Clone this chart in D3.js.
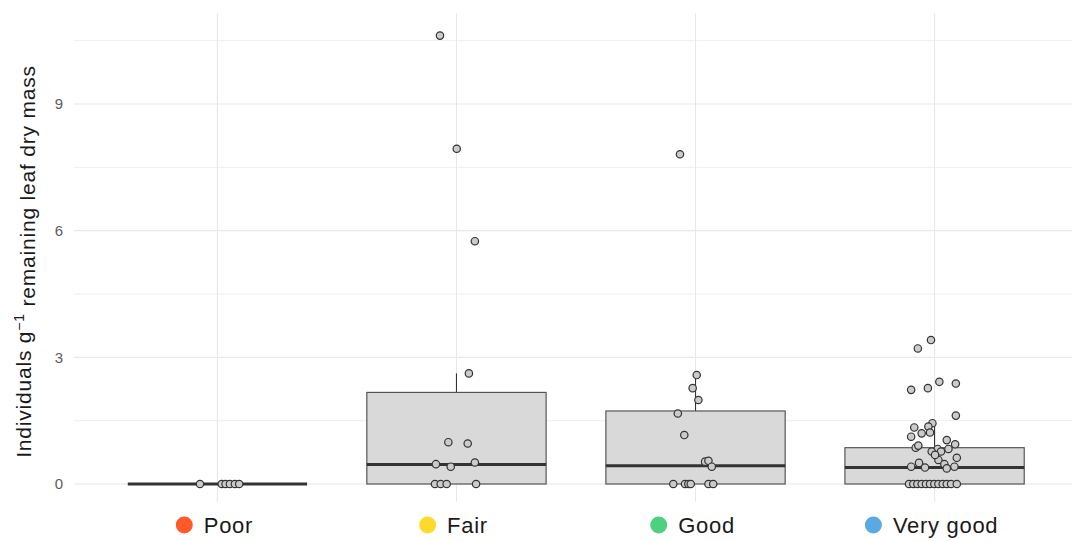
<!DOCTYPE html>
<html>
<head>
<meta charset="utf-8">
<script src="https://cdn.jsdelivr.net/npm/d3@7"></script>
<style>
  html, body { margin: 0; padding: 0; background: #fff; }
  #chart-container { width: 1072px; height: 541px; }
  text { font-family: "Liberation Sans", Arial, sans-serif; }
</style>
</head>
<body>
<div id="chart-container"></div>
<script>
// Box plot with jittered points
const categories = ["Poor", "Fair", "Good", "Very good"];
const categoryColors = ["#ff5a27", "#fdd92c", "#4dd080", "#59a9e3"];
const yTicks = [0, 3, 6, 9];
const yMinorTicks = [1.5, 4.5, 7.5, 10.5];

// box statistics
const boxLow = [0, 0, 0, 0];
const boxQ1 = [0, 0, 0, 0];
const boxMedian = [0, 0.46, 0.43, 0.39];
const boxQ3 = [0, 2.17, 1.73, 0.86];
const boxHigh = [0, 2.62, 2.57, 1.5];

// points: value and horizontal jitter (in category units)
const poorValues = [0, 0, 0, 0, 0, 0];
const poorJitter = [-0.073, 0.018, 0.034, 0.052, 0.073, 0.091];

const fairValues = [10.62, 7.94, 5.75, 2.62, 0.99, 0.96, 0.47, 0.41, 0.51, 0, 0, 0, 0];
const fairJitter = [-0.069, 0.001, 0.077, 0.052, -0.034, 0.047, -0.086, -0.024, 0.077, -0.09, -0.066, -0.041, 0.082];

const goodValues = [7.81, 2.58, 2.27, 1.99, 1.67, 1.16, 0.53, 0.55, 0.41, 0, 0, 0, 0, 0, 0];
const goodJitter = [-0.065, 0.005, -0.012, 0.012, -0.074, -0.047, 0.040, 0.054, 0.068, -0.093, -0.044, -0.030, -0.020, 0.054, 0.074];

const veryGoodValues = [3.21, 3.41, 2.23, 2.27, 2.42, 2.38, 1.62, 1.44, 1.34, 1.36, 1.20, 1.22, 1.12, 1.04, 0.94,
  0.86, 0.91, 0.83, 0.77, 0.77, 0.83, 0.57, 0.62, 0.47, 0.41, 0.50, 0.39, 0.37, 0.41, 0.69,
  0, 0, 0, 0, 0, 0, 0, 0, 0, 0, 0, 0];
const veryGoodJitter = [-0.070, -0.015, -0.098, -0.028, 0.020, 0.089, 0.089, -0.009, -0.085, -0.026, -0.054, -0.019, -0.098, 0.051, 0.086,
  -0.079, -0.068, 0.013, -0.012, 0.027, 0.058, 0.016, 0.093, 0.041, -0.098, -0.065, -0.040, 0.051, 0.083, 0.002,
  -0.107, -0.089, -0.072, -0.054, -0.036, -0.019, -0.001, 0.016, 0.034, 0.051, 0.069, 0.093];

(function() {
  const width = 1072;
  const height = 541;
  const panel = { left: 74, right: 1078, top: 13, bottom: 502 };

  const svg = d3.select('#chart-container')
    .append("svg")
    .attr("width", width)
    .attr("height", height);

  const xScale = d3.scaleLinear()
    .domain([-0.6, categories.length - 0.4])
    .range([panel.left, panel.right]);

  const yScale = d3.scaleLinear()
    .domain([-0.426, 11.155])
    .range([panel.bottom, panel.top]);

  // grid
  svg.selectAll(".minor-grid")
    .data(yMinorTicks)
    .enter()
    .append("line")
    .attr("x1", panel.left).attr("x2", width)
    .attr("y1", d => yScale(d)).attr("y2", d => yScale(d))
    .attr("stroke", "#efefef")
    .attr("stroke-width", 1);

  svg.selectAll(".major-grid")
    .data(yTicks)
    .enter()
    .append("line")
    .attr("x1", panel.left).attr("x2", width)
    .attr("y1", d => yScale(d)).attr("y2", d => yScale(d))
    .attr("stroke", "#e8e8e8")
    .attr("stroke-width", 1.1);

  svg.selectAll(".x-grid")
    .data(categories)
    .enter()
    .append("line")
    .attr("x1", (d, i) => xScale(i)).attr("x2", (d, i) => xScale(i))
    .attr("y1", panel.top).attr("y2", panel.bottom)
    .attr("stroke", "#e8e8e8")
    .attr("stroke-width", 1.1);

  // y axis labels
  svg.selectAll(".y-label")
    .data(yTicks)
    .enter()
    .append("text")
    .attr("x", 63)
    .attr("y", d => yScale(d))
    .attr("dy", "0.36em")
    .attr("text-anchor", "end")
    .attr("fill", "#5c5c5c")
    .style("font-size", "15px")
    .text(d => d);

  // y axis title
  const title = svg.append("text")
    .attr("transform", `translate(31,${(panel.top + panel.bottom) / 2 + 4}) rotate(-90)`)
    .attr("text-anchor", "middle")
    .attr("fill", "#1a1a1a")
    .style("font-size", "21px")
    .style("letter-spacing", "0.8px");
  title.append("tspan").text("Individuals g");
  title.append("tspan").attr("dy", "-0.5em").style("font-size", "14px").text("\u22121");
  title.append("tspan").attr("dy", "0.5em").text(" remaining leaf dry mass");

  // boxes
  const boxWidth = 0.75;
  const boxes = svg.selectAll(".box")
    .data(categories)
    .enter()
    .append("g")
    .attr("class", "box");

  boxes.append("line")
    .attr("x1", (d, i) => xScale(i)).attr("x2", (d, i) => xScale(i))
    .attr("y1", (d, i) => yScale(boxQ3[i])).attr("y2", (d, i) => yScale(boxHigh[i]))
    .attr("stroke", "#333")
    .attr("stroke-width", 1.1);

  boxes.append("line")
    .attr("x1", (d, i) => xScale(i)).attr("x2", (d, i) => xScale(i))
    .attr("y1", (d, i) => yScale(boxQ1[i])).attr("y2", (d, i) => yScale(boxLow[i]))
    .attr("stroke", "#333")
    .attr("stroke-width", 1.1);

  boxes.append("rect")
    .attr("x", (d, i) => xScale(i - boxWidth / 2))
    .attr("width", xScale(boxWidth) - xScale(0))
    .attr("y", (d, i) => yScale(boxQ3[i]))
    .attr("height", (d, i) => yScale(boxQ1[i]) - yScale(boxQ3[i]))
    .attr("fill", "#d9d9d9")
    .attr("stroke", "#4a4a4a")
    .attr("stroke-width", 1.1);

  boxes.append("line")
    .attr("x1", (d, i) => xScale(i - boxWidth / 2)).attr("x2", (d, i) => xScale(i + boxWidth / 2))
    .attr("y1", (d, i) => yScale(boxMedian[i])).attr("y2", (d, i) => yScale(boxMedian[i]))
    .attr("stroke", "#333")
    .attr("stroke-width", 3);

  // points
  const groups = [
    [poorValues, poorJitter],
    [fairValues, fairJitter],
    [goodValues, goodJitter],
    [veryGoodValues, veryGoodJitter]
  ];
  const points = [];
  groups.forEach(([vals, jit], i) => {
    vals.forEach((v, j) => points.push({ x: i + jit[j], y: v }));
  });

  svg.selectAll(".pt")
    .data(points)
    .enter()
    .append("circle")
    .attr("class", "pt")
    .attr("cx", d => xScale(d.x))
    .attr("cy", d => yScale(d.y))
    .attr("r", 3.7)
    .attr("fill", "#cbcbcb")
    .attr("stroke", "#333")
    .attr("stroke-width", 1.2);

  // category labels with coloured dots
  const labels = svg.selectAll(".cat-label")
    .data(categories)
    .enter()
    .append("g")
    .attr("class", "cat-label");

  labels.append("text")
    .attr("y", 533)
    .attr("fill", "#1a1a1a")
    .style("font-size", "22px")
    .style("letter-spacing", "0.7px")
    .text(d => d);

  labels.each(function(d, i) {
    const g = d3.select(this);
    const tw = g.select("text").node().getComputedTextLength();
    const total = 17 + 11 + tw;
    const left = xScale(i) - total / 2 - 3;
    g.select("text").attr("x", left + 28);
    g.append("circle")
      .attr("cx", left + 8.5)
      .attr("cy", 525)
      .attr("r", 8.5)
      .attr("fill", categoryColors[i]);
  });
})();
</script>
</body>
</html>
